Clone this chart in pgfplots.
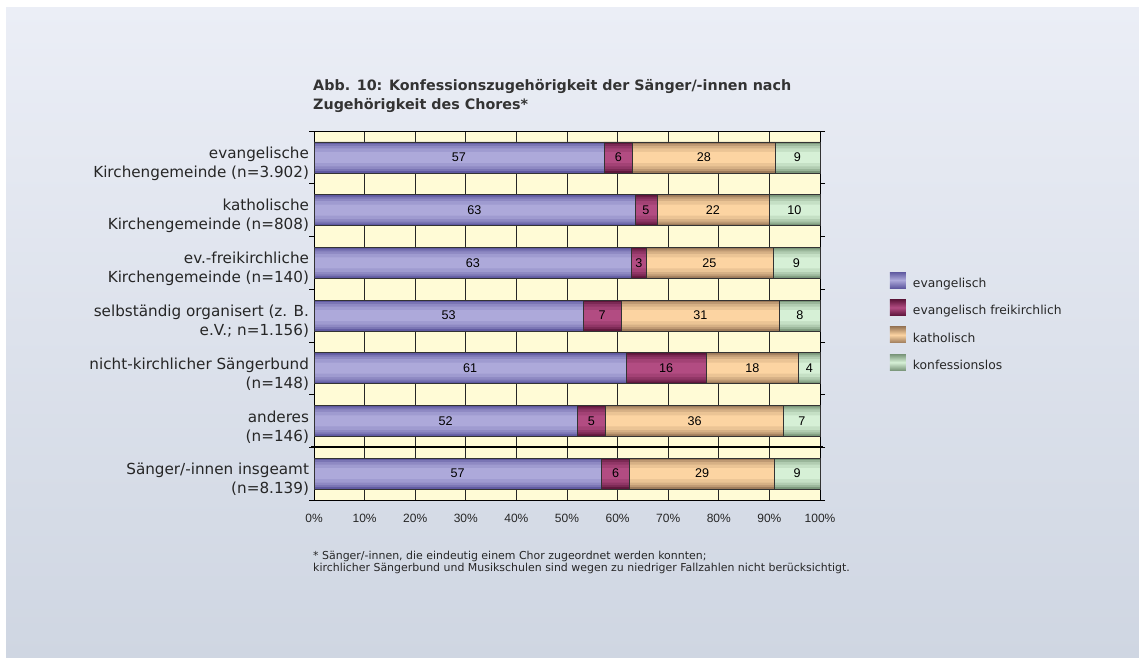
\documentclass[border=0pt]{standalone}
\usepackage{pgfplots}
\pgfplotsset{compat=1.18}
\usepackage{pgfplotstable}
\usepackage{fontspec}
\setmainfont{DejaVu Sans}
\newfontfamily\arial{Liberation Sans}

\definecolor{bgtop}{HTML}{EBEEF6}
\definecolor{bgbot}{HTML}{CFD6E2}
\definecolor{plotbg}{HTML}{FFFBD6}
\definecolor{evD}{HTML}{5F59A0}
\definecolor{evL}{HTML}{ADA9DA}
\definecolor{frD}{HTML}{5E163B}
\definecolor{frL}{HTML}{B24C82}
\definecolor{kaD}{HTML}{9C7A5A}
\definecolor{kaL}{HTML}{FCD4A2}
\definecolor{koD}{HTML}{7A967A}
\definecolor{koL}{HTML}{D6F0D6}

\pgfplotstableread{
r v lab
0 57.3 57
1 63.4 63
2 62.8 63
3 53.2 53
4 61.7 61
5 52.0 52
6 56.8 57
}\tev
\pgfplotstableread{
r v lab
0 5.7 6
1 4.4 5
2 2.8 3
3 7.5 7
4 15.8 16
5 5.6 5
6 5.6 6
}\tfr
\pgfplotstableread{
r v lab
0 28.1 28
1 22.1 22
2 25.1 25
3 31.3 31
4 18.3 18
5 35.2 36
6 28.6 29
}\tka
\pgfplotstableread{
r v lab
0 8.9 9
1 10.1 10
2 9.3 9
3 8.0 8
4 4.2 4
5 7.2 7
6 9.0 9
}\tko

\pgfplotsset{
  base/.style={at={(314pt,157pt)}, anchor=south west,
    scale only axis, width=506pt, height=369pt,
    xmin=0, xmax=100, ymin=-0.5, ymax=6.5, y dir=reverse,
    xbar stacked, clip=false},
}
\newcommand{\barlayer}[2]{%
\begin{axis}[base, hide axis, bar width=#1]
\addplot[draw=none, fill=evL!#2!evD] table[x=v, y=r] {\tev};
\addplot[draw=none, fill=frL!#2!frD] table[x=v, y=r] {\tfr};
\addplot[draw=none, fill=kaL!#2!kaD] table[x=v, y=r] {\tka};
\addplot[draw=none, fill=koL!#2!koD] table[x=v, y=r] {\tko};
\end{axis}}

\begin{document}
\begin{tikzpicture}
\fill[white] (0pt,0pt) rectangle (1139pt,657pt);
\shade[top color=bgtop, bottom color=bgbot] (6pt,0pt) rectangle (1139pt,649pt);

\begin{axis}[
  base, bar width=31pt,
  axis background/.style={fill=plotbg},
  xmajorgrids, grid style={black!85, line width=0.7pt},
  axis line style={black, line width=0.8pt},
  xtick={0,10,...,100},
  xticklabels={0\%,10\%,20\%,30\%,40\%,50\%,60\%,70\%,80\%,90\%,100\%},
  ytick={0,...,6},
  yticklabels={{evangelische\\Kirchengemeinde (n=3.902)},
               {katholische\\Kirchengemeinde (n=808)},
               {ev.-freikirchliche\\Kirchengemeinde (n=140)},
               {selbständig organisert (z. B.\\e.V.; n=1.156)},
               {nicht-kirchlicher Sängerbund\\(n=148)},
               {anderes\\(n=146)},
               {Sänger/-innen insgeamt\\(n=8.139)}},
  minor ytick={-0.5,0.5,...,6.5},
  tick align=outside, major tick length=0pt, minor tick length=5pt,
  tick style={black, line width=0.7pt},
  xticklabel style={font=\arial\fontsize{12}{14}\selectfont, anchor=base, yshift=-22.9pt, text=black!85},
  yticklabel style={align=right, font=\fontsize{15.2}{19}\selectfont, yshift=-6pt, xshift=-1.5pt, text=black!85},
  legend image code/.code={\path[#1, draw=none] (0pt,-4.5pt) rectangle (16pt,11.5pt);},
  legend style={at={(axis description cs:1.1383,0.6179)}, anchor=north west,
     draw=none, fill=none, inner sep=0pt, outer sep=0pt, row sep=10.5pt,
     font=\fontsize{12.3}{15}\selectfont, text=black!85,
     /tikz/every odd column/.append style={column sep=7pt},
     nodes={inner sep=0pt}},
  legend cell align=left,
]
\addlegendimage{top color=evD, bottom color=evD, middle color=evL}
\addlegendentry{evangelisch}
\addlegendimage{top color=frD, bottom color=frD, middle color=frL}
\addlegendentry{evangelisch freikirchlich}
\addlegendimage{top color=kaD, bottom color=kaD, middle color=kaL}
\addlegendentry{katholisch}
\addlegendimage{top color=koD, bottom color=koD, middle color=koL}
\addlegendentry{konfessionslos}
\addplot[forget plot, draw=none, fill=evD] table[x=v, y=r] {\tev};
\addplot[forget plot, draw=none, fill=frD] table[x=v, y=r] {\tfr};
\addplot[forget plot, draw=none, fill=kaD] table[x=v, y=r] {\tka};
\addplot[forget plot, draw=none, fill=koD] table[x=v, y=r] {\tko};
\end{axis}

\barlayer{27pt}{35}
\barlayer{23pt}{60}
\barlayer{18pt}{82}
\barlayer{11pt}{100}

\begin{axis}[base, hide axis, bar width=31pt,
  nodes near coords, point meta=explicit symbolic,
  every node near coord/.append style={anchor=center, font=\arial\fontsize{12.6}{14}\selectfont, text=black},
]
\addplot[draw=black!80, fill=none, line width=0.6pt] table[x=v, y=r, meta=lab] {\tev};
\addplot[draw=black!80, fill=none, line width=0.6pt] table[x=v, y=r, meta=lab] {\tfr};
\addplot[draw=black!80, fill=none, line width=0.6pt] table[x=v, y=r, meta=lab] {\tka};
\addplot[draw=black!80, fill=none, line width=0.6pt] table[x=v, y=r, meta=lab] {\tko};
\draw[black, line width=1.8pt] ([xshift=-3pt]axis cs:0,5.5) -- ([xshift=3pt]axis cs:100,5.5);
\end{axis}

\node[anchor=base west, inner sep=0pt, font=\bfseries\fontsize{14.3}{19}\selectfont, text=black!80] at (313pt,566pt) {Abb. 10: Konfessionszugehörigkeit der Sänger/-innen nach};
\node[anchor=base west, inner sep=0pt, font=\bfseries\fontsize{14.3}{19}\selectfont, text=black!80] at (313pt,547pt) {Zugehörigkeit des Chores*};
\node[anchor=base west, inner sep=0pt, font=\fontsize{10.95}{13}\selectfont, text=black!85] at (313pt,98pt) {* Sänger/-innen, die eindeutig einem Chor zugeordnet werden konnten;};
\node[anchor=base west, inner sep=0pt, font=\fontsize{10.95}{13}\selectfont, text=black!85] at (313pt,85.5pt) {kirchlicher Sängerbund und Musikschulen sind wegen zu niedriger Fallzahlen nicht berücksichtigt.};
\end{tikzpicture}
\end{document}
